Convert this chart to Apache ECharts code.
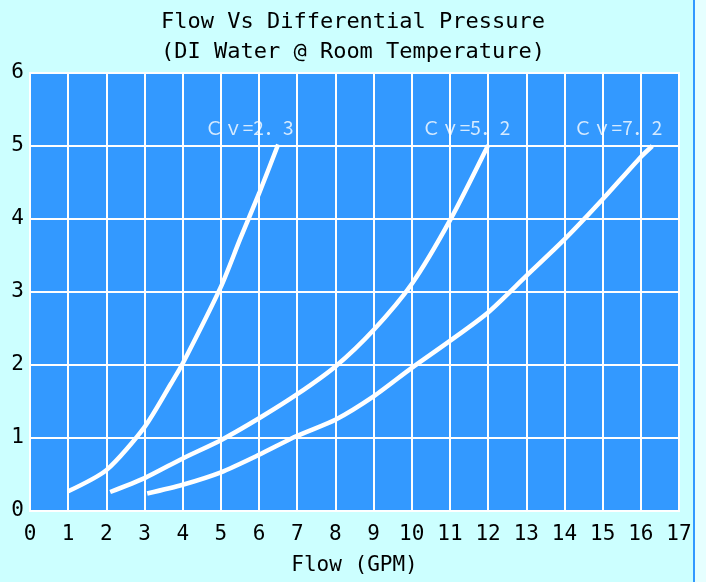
<!DOCTYPE html>
<html><head><meta charset="utf-8">
<script src="https://cdn.jsdelivr.net/npm/echarts@6/dist/echarts.min.js"></script>
<style>html,body{margin:0;padding:0;background:#ccffff}#c{width:706px;height:582px}</style>
</head><body><div id="c"></div>
<script>
// ---- data ----
const titleLine1 = 'Flow Vs Differential Pressure';
const titleLine2 = '(DI Water @ Room Temperature)';
const xAxisTitle = 'Flow (GPM)';
const xMin = 0, xMax = 17;
const yMin = 0, yMax = 6;
const cv23 = [[1.0,0.27],[2.0,0.56],[3.0,1.15],[3.7,1.75],[4.0,2.02],[5.0,3.07],[5.5,3.72],[6.0,4.35],[6.5,5.02]];
const cv52 = [[2.1,0.26],[3.0,0.45],[4.0,0.72],[5.0,0.97],[6.0,1.27],[7.0,1.60],[8.0,1.98],[9.0,2.48],[10.0,3.11],[11.0,3.98],[12.0,5.01]];
const cv72 = [[3.07,0.24],[4.0,0.36],[5.0,0.53],[6.0,0.77],[7.0,1.03],[8.0,1.25],[9.0,1.57],[10.0,1.96],[11.0,2.33],[12.0,2.72],[13.0,3.22],[14.0,3.72],[15.0,4.27],[16.0,4.85],[16.3,5.0]];
const cvNames = ['Ｃｖ=2．3', 'Ｃｖ=5．2', 'Ｃｖ=7．2'];
const cvLabelAnchors = [[5.74,5.25],[11.42,5.25],[15.4,5.25]];

// ---- chart ----
const mono = "'DejaVu Sans Mono', monospace";
const chart = echarts.init(document.getElementById('c'), null, {renderer:'canvas'});
const curveStyle = {color:'#ffffff', width:4.5, cap:'butt'};
const curves = [cv23, cv52, cv72].map((d, i) => ({
  type:'line', name:cvNames[i], data:d, showSymbol:false, symbol:'none',
  smooth:0.25, lineStyle:curveStyle, silent:true, z:3
}));
chart.setOption({
  backgroundColor:'#ccffff',
  animation:false,
  title:[
    {text:titleLine1, left:'center', top:6, textStyle:{fontFamily:mono, fontSize:22, fontWeight:'normal', color:'#000'}},
    {text:titleLine2, left:'center', top:36, textStyle:{fontFamily:mono, fontSize:22, fontWeight:'normal', color:'#000'}}
  ],
  grid:{left:30, right:27, top:73, bottom:71, show:true, backgroundColor:'#3399ff', borderColor:'#ffffff', borderWidth:2},
  xAxis:{type:'value', min:xMin, max:xMax, interval:1,
    name:xAxisTitle, nameLocation:'middle', nameGap:44,
    nameTextStyle:{fontFamily:mono, fontSize:21, color:'#000'},
    axisLine:{show:false}, axisTick:{show:false},
    axisLabel:{fontFamily:mono, fontSize:21, color:'#000', margin:13},
    splitLine:{show:true, lineStyle:{color:'#ffffff', width:2}}},
  yAxis:{type:'value', min:yMin, max:yMax, interval:1,
    axisLine:{show:false}, axisTick:{show:false},
    axisLabel:{fontFamily:mono, fontSize:21, color:'#000', margin:6},
    splitLine:{show:true, lineStyle:{color:'#ffffff', width:2}}},
  series: curves.concat([{
    type:'scatter', symbolSize:1, itemStyle:{color:'rgba(0,0,0,0)'}, silent:true, z:4,
    data: cvLabelAnchors.map((p, i) => ({value:p, name:cvNames[i]})),
    label:{show:true, position:'inside', formatter:p => p.name, color:'#ffffff',
      fontFamily:"'Noto Sans CJK JP', sans-serif", fontSize:19}
  }]),
  graphic:[
    {type:'rect', shape:{x:694, y:0, width:12, height:582}, style:{fill:'#e6ffff'}, silent:true},
    {type:'rect', shape:{x:693, y:0, width:2, height:582}, style:{fill:'#3399ff'}, silent:true}
  ]
});
</script></body></html>
